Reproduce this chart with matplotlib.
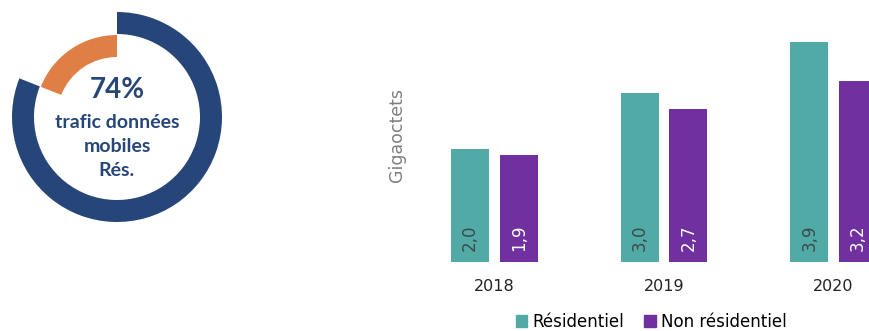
import numpy as np
import matplotlib.pyplot as plt
from matplotlib.patches import Patch

# donut (shares as drawn) + label
donut_shares = [81, 19]
donut_pct = "74%"
donut_lines = ["trafic données", "mobiles", "Rés."]

# bars
years = ["2018", "2019", "2020"]
residentiel = [2.0, 3.0, 3.9]
non_residentiel = [1.9, 2.7, 3.2]
series_names = ["Résidentiel", "Non résidentiel"]

blue = "#26467a"
orange = "#e07f45"
teal = "#52aaa6"
purple = "#7030a0"

W, H = 869, 331
fig = plt.figure(figsize=(W / 100, H / 100), dpi=100)

# ---- donut
cx, cy = 117, 117
size = 240
axd = fig.add_axes([(cx - size / 2) / W, (H - cy - size / 2) / H, size / W, size / H])
axd.pie(donut_shares, radius=105, colors=[blue, "none"], startangle=90,
        counterclock=False, wedgeprops=dict(width=22, linewidth=0))
axd.pie(donut_shares, radius=82, colors=["none", orange], startangle=90,
        counterclock=False, wedgeprops=dict(width=22, linewidth=0))
axd.set_xlim(-size / 2, size / 2)
axd.set_ylim(-size / 2, size / 2)
axd.set_aspect("equal")
axd.axis("off")

fig.text(cx / W, 1 - 90 / H, donut_pct, ha="center", va="center", fontsize=20,
         fontweight="bold", color=blue, family="Lato")
for i, line in enumerate(donut_lines):
    fig.text(cx / W, 1 - (122 + 24.5 * i) / H, line, ha="center", va="center",
             fontsize=14, fontweight="bold", color=blue, family="Lato")

# ---- bar chart
x0_px, step_px = 494.5, 169.5
left_px = 430
base_px = 262
px_per_unit = 56.5
ax = fig.add_axes([left_px / W, (H - base_px) / H, (W - left_px) / W, base_px / H])
x = np.arange(len(years))
bw = 38 / step_px
off = 24.3 / step_px
b1 = ax.bar(x - off, residentiel, bw, color=teal)
b2 = ax.bar(x + off, non_residentiel, bw, color=purple)
for rects, vals, col in [(b1, residentiel, "#3b4a4c"), (b2, non_residentiel, "white")]:
    for r, v in zip(rects, vals):
        ax.text(r.get_x() + r.get_width() / 2, 0.2, f"{v:.1f}".replace(".", ","),
                rotation=90, ha="center", va="bottom", fontsize=12, color=col)
ax.set_xlim((left_px - x0_px) / step_px, (W - x0_px) / step_px)
ax.set_ylim(0, base_px / px_per_unit)
ax.set_xticks(x)
ax.set_xticklabels(years, fontsize=11.5, color="#222222")
ax.tick_params(axis="x", length=0, pad=12)
ax.set_yticks([])
for s in ax.spines.values():
    s.set_visible(False)

fig.text(397 / W, 1 - 135 / H, "Gigaoctets", rotation=90, ha="center", va="center",
         fontsize=12.5, color="#7f7f7f")

handles = [Patch(color=teal), Patch(color=purple)]
fig.legend(handles, series_names, loc="center", bbox_to_anchor=(651 / W, 1 - 322 / H),
           ncol=2, frameon=False, fontsize=12, handlelength=0.7, handleheight=0.7,
           handletextpad=0.3, columnspacing=1.2)

fig.savefig("out.png", dpi=100)
